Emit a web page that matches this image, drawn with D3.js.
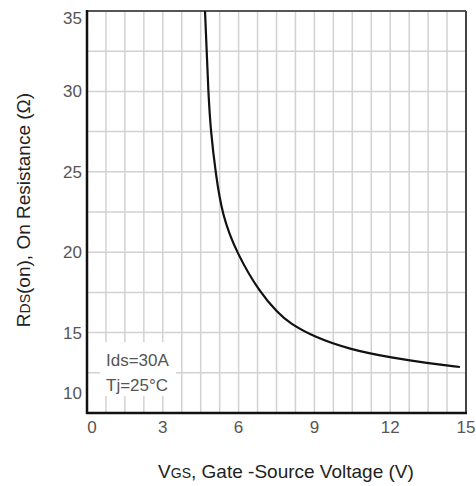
<!DOCTYPE html>
<html>
<head>
<meta charset="utf-8">
<script src="https://cdn.jsdelivr.net/npm/d3@7"></script>
<style>
  body { margin: 0; background: #fff; }
  text { font-family: "Liberation Sans", Arial, sans-serif; }
</style>
</head>
<body>
<script>
var width = 476;
var height = 486;

// curve: gate voltage (V) and on-resistance (ohm)
var vgs = [4.67, 4.74, 4.80, 4.90, 5.09, 5.35, 5.92, 6.85, 7.56, 8.0, 9.0, 10.4, 12.11, 13.45, 14.76];
var rds = [35.0, 32.45, 29.96, 27.48, 24.93, 22.3, 19.95, 17.46, 16.22, 15.6, 14.72, 13.95, 13.42, 13.11, 12.86];
var xTicks = [0, 3, 6, 9, 12, 15];
var yTicks = [10, 15, 20, 25, 30, 35];

var pLeft = 87, pRight = 466, pTop = 11, pBottom = 413;

var x = d3.scaleLinear().domain([0, 15]).range([pLeft, pRight]);
var y = d3.scaleLinear().domain([10, 35]).range([pBottom, pTop]);

var svg = d3.select("body").append("svg")
    .attr("width", width)
    .attr("height", height);

// grid
var xGrid = d3.range(0, 15.001, 0.75);
var yGrid = d3.range(10, 35.001, 2.5);

svg.append("g").selectAll("line")
    .data(xGrid)
  .enter().append("line")
    .attr("x1", function(d) { return x(d); })
    .attr("x2", function(d) { return x(d); })
    .attr("y1", pTop)
    .attr("y2", pBottom)
    .attr("stroke", "#d2d2d2")
    .attr("stroke-width", 1.5);

svg.append("g").selectAll("line")
    .data(yGrid)
  .enter().append("line")
    .attr("x1", pLeft)
    .attr("x2", pRight)
    .attr("y1", function(d) { return y(d); })
    .attr("y2", function(d) { return y(d); })
    .attr("stroke", "#d2d2d2")
    .attr("stroke-width", 1.5);

// condition label box covers the grid
svg.append("rect")
    .attr("x", 100).attr("y", 342)
    .attr("width", 76).attr("height", 54)
    .attr("fill", "#fff");

svg.append("text")
    .attr("x", 106).attr("y", 366)
    .attr("fill", "#555")
    .style("font-size", "17px")
    .text("Ids=30A");
svg.append("text")
    .attr("x", 106).attr("y", 391)
    .attr("fill", "#555")
    .style("font-size", "17px")
    .text("Tj=25°C");

// frame
svg.append("line").attr("x1", pLeft).attr("x2", pRight).attr("y1", pTop).attr("y2", pTop)
    .attr("stroke", "#555").attr("stroke-width", 2);
svg.append("line").attr("x1", pRight).attr("x2", pRight).attr("y1", pTop).attr("y2", pBottom)
    .attr("stroke", "#444").attr("stroke-width", 2);
svg.append("line").attr("x1", pLeft).attr("x2", pLeft).attr("y1", pTop - 1).attr("y2", pBottom + 1)
    .attr("stroke", "#111").attr("stroke-width", 2.5);
svg.append("line").attr("x1", pLeft - 1).attr("x2", pRight + 1).attr("y1", pBottom).attr("y2", pBottom)
    .attr("stroke", "#111").attr("stroke-width", 2.5);

// curve
var pts = vgs.map(function(v, i) { return [v, rds[i]]; });
var line = d3.line()
    .x(function(d) { return x(d[0]); })
    .y(function(d) { return y(d[1]); })
    .curve(d3.curveBasis);

svg.append("path")
    .datum(pts)
    .attr("d", line)
    .attr("fill", "none")
    .attr("stroke", "#111")
    .attr("stroke-width", 2.2);

// tick labels (end ones nudged inward like the original)
svg.append("g").selectAll("text")
    .data(yTicks)
  .enter().append("text")
    .attr("x", 82)
    .attr("y", function(d) {
      if (d == 35) return y(d) + 7;
      if (d == 10) return y(d) - 20;
      return y(d);
    })
    .attr("dy", "0.35em")
    .attr("text-anchor", "end")
    .attr("fill", "#555")
    .style("font-size", "17px")
    .text(function(d) { return d; });

svg.append("g").selectAll("text")
    .data(xTicks)
  .enter().append("text")
    .attr("x", function(d) { return d == 0 ? x(d) + 5 : x(d); })
    .attr("y", 427)
    .attr("dy", "0.35em")
    .attr("text-anchor", "middle")
    .attr("fill", "#555")
    .style("font-size", "17px")
    .text(function(d) { return d; });

// axis titles
var xt = svg.append("text")
    .attr("x", 286).attr("y", 478)
    .attr("text-anchor", "middle")
    .attr("fill", "#222")
    .style("font-size", "19px");
xt.append("tspan").text("V");
xt.append("tspan").style("font-size", "14px").text("GS");
xt.append("tspan").text(", Gate -Source Voltage (V)");

var yt = svg.append("text")
    .attr("transform", "translate(30,210) rotate(-90)")
    .attr("text-anchor", "middle")
    .attr("fill", "#222")
    .style("font-size", "19px");
yt.append("tspan").text("R");
yt.append("tspan").style("font-size", "14px").text("DS");
yt.append("tspan").text("(on), On Resistance (Ω)");
</script>
</body>
</html>
